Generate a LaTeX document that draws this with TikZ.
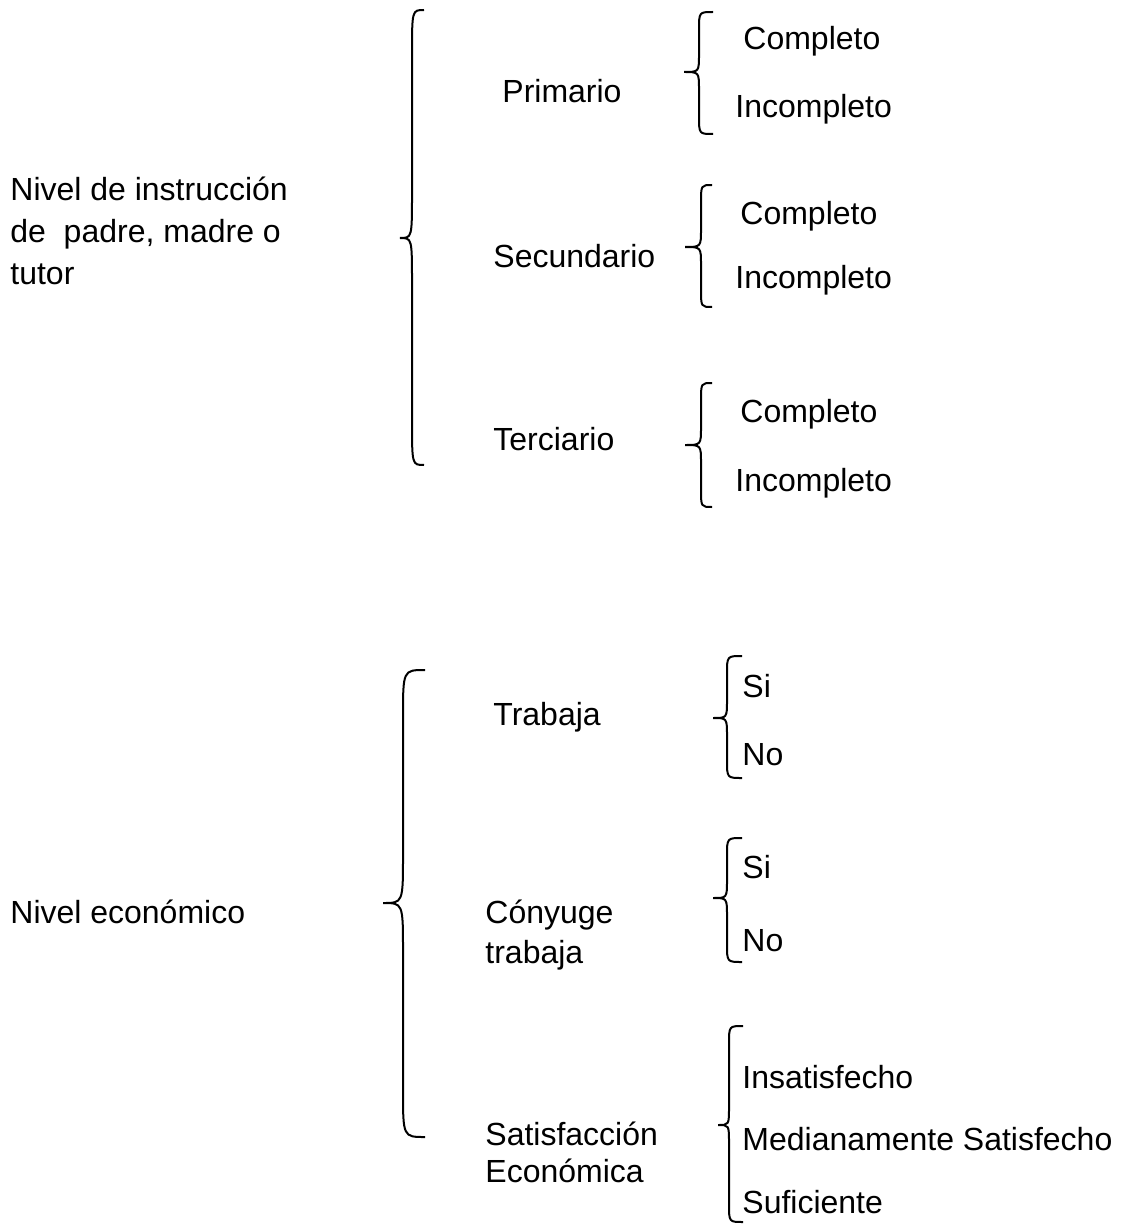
\documentclass[tikz,border=0pt]{standalone}
\usepackage{fontspec}
\setmainfont{Liberation Sans}
\usepackage{tikz}

% curly brace as drawn by a word processor: tip x, stem x, middle x, top y, middle y, bottom y, bend
\newcommand{\wbrace}[7]{%
  \draw[line width=1pt] (#1,#4) .. controls (#2,#4) .. (#2,#4+#7) -- (#2,#5-#7)
    .. controls (#2,#5) .. (#3,#5) .. controls (#2,#5) .. (#2,#5+#7)
    -- (#2,#6-#7) .. controls (#2,#6) .. (#1,#6);}

\begin{document}
\begin{tikzpicture}[x=0.5pt,y=-0.5pt]
\tikzstyle{every node}=[anchor=base west, inner sep=0pt, font=\fontsize{16}{21}\selectfont];
\useasboundingbox (0,0) rectangle (1123,1225);

% nivel de instruccion
\draw (10,285) node[align=left] (ni) {Nivel de instrucción\\de\ \ padre, madre o\\tutor};

\draw (502,103) node (pri) {Primario};
\draw (493,267) node (sec) {Secundario};
\draw (493,450) node (ter) {Terciario};

\draw (743,50) node (pc) {Completo};
\draw (735,118) node (pi) {Incompleto};
\draw (740,225) node (sc) {Completo};
\draw (735,288) node (si) {Incompleto};
\draw (740,422) node (tc) {Completo};
\draw (735,491) node (ti) {Incompleto};

\wbrace{424}{412}{400}{10}{238}{465}{45}
\wbrace{713}{699}{684}{12}{72}{134}{18}
\wbrace{712}{701}{685}{185}{247}{307}{18}
\wbrace{712}{701}{685}{383}{445}{507}{18}

% nivel economico
\draw (10,923) node (ne) {Nivel económico};

\draw (493,725) node (tra) {Trabaja};
\draw (485,963) node[align=left, font=\fontsize{16}{20}\selectfont] (con) {Cónyuge\\trabaja};
\draw (485,1182) node[align=left, font=\fontsize{16}{18.5}\selectfont] (sat) {Satisfacción\\Económica};

\draw (742,697) node (ts) {Si};
\draw (742,765) node (tn) {No};
\draw (742,878) node (cs) {Si};
\draw (742,951) node (cn) {No};
\draw (742,1088) node (s1) {Insatisfecho};
\draw (742,1150) node (s2) {Medianamente Satisfecho};
\draw (742,1213) node (s3) {Suficiente};

\wbrace{425}{403}{383}{670}{903}{1137}{48}
\wbrace{742}{727}{713}{656}{718}{778}{18}
\wbrace{742}{727}{713}{838}{898}{962}{18}
\wbrace{743}{729}{718}{1026}{1125}{1222}{18}

\end{tikzpicture}
\end{document}
